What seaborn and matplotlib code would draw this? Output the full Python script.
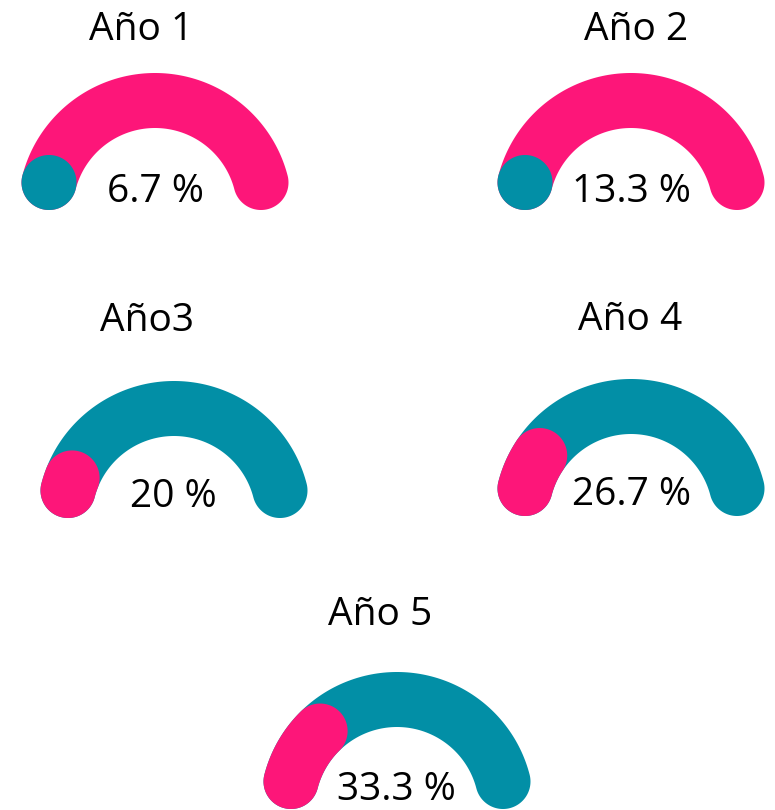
import numpy as np
import matplotlib
matplotlib.use("Agg")
import matplotlib.pyplot as plt
import seaborn as sns

# data
years = ["Año 1", "Año 2", "Año3", "Año 4", "Año 5"]
values = [6.7, 13.3, 20, 26.7, 33.3]   # percent of a 0-100 gauge
gauge_max = 100

# colours
PINK = "#FD1679"
TEAL = "#028FA6"
bg_colors = [PINK, PINK, TEAL, TEAL, TEAL]
val_colors = [TEAL, TEAL, PINK, PINK, PINK]

# layout in pixels (figure is 775 x 810)
centers = [(155, 210), (631, 210), (174, 518), (631, 516), (397, 809)]
title_pos = [(141, 40), (636, 40), (147, 331), (630, 330), (380, 625)]
label_pos = [(155, 202), (631, 202), (173, 507), (631, 505), (396, 800)]

R_OUT = 137.0
WIDTH = 55.0
R_C = R_OUT - WIDTH / 2
HALF = WIDTH / 2
CAP = np.degrees(np.arcsin(HALF / R_C))  # rounded ends sit inside the angle range

sns.set_theme(style="white")
plt.rcParams["font.family"] = ["Open Sans", "DejaVu Sans"]


def band(cx, cy, a0, a1, n=120):
    """rounded arc band from angle a0 down to a1 (degrees), centre (cx, cy), y down"""
    t = np.radians(np.linspace(a0, a1, n))
    outer = np.c_[R_OUT * np.cos(t), R_OUT * np.sin(t)]
    e = np.radians(a1)
    phi = np.radians(np.linspace(a1, a1 - 180, n))
    cap_end = np.c_[R_C * np.cos(e) + HALF * np.cos(phi), R_C * np.sin(e) + HALF * np.sin(phi)]
    t2 = t[::-1]
    inner = np.c_[(R_OUT - WIDTH) * np.cos(t2), (R_OUT - WIDTH) * np.sin(t2)]
    s = np.radians(a0)
    phi2 = np.radians(np.linspace(a0 + 180, a0, n))
    cap_start = np.c_[R_C * np.cos(s) + HALF * np.cos(phi2), R_C * np.sin(s) + HALF * np.sin(phi2)]
    pts = np.vstack([outer, cap_end, inner, cap_start])
    return cx + pts[:, 0], cy - pts[:, 1]


fig = plt.figure(figsize=(7.75, 8.10), dpi=100)
ax = fig.add_axes([0, 0, 1, 1])
ax.set_xlim(0, 775)
ax.set_ylim(810, 0)
ax.set_aspect("equal")
ax.axis("off")

for i, (name, v) in enumerate(zip(years, values)):
    cx, cy = centers[i]
    start = 180 - CAP
    # background track
    xs, ys = band(cx, cy, start, CAP)
    ax.fill(xs, ys, color=bg_colors[i], lw=0)
    # value arc
    span = v / gauge_max * 180
    end = min(start, 180 - span + CAP)
    xs, ys = band(cx, cy, start, end)
    ax.fill(xs, ys, color=val_colors[i], lw=0)

    ax.text(*title_pos[i], name, ha="center", va="baseline", fontsize=28, color="black")
    ax.text(*label_pos[i], f"{v:g} %", ha="center", va="baseline", fontsize=28, color="black")

fig.savefig("out.png", dpi=100, facecolor="white")
